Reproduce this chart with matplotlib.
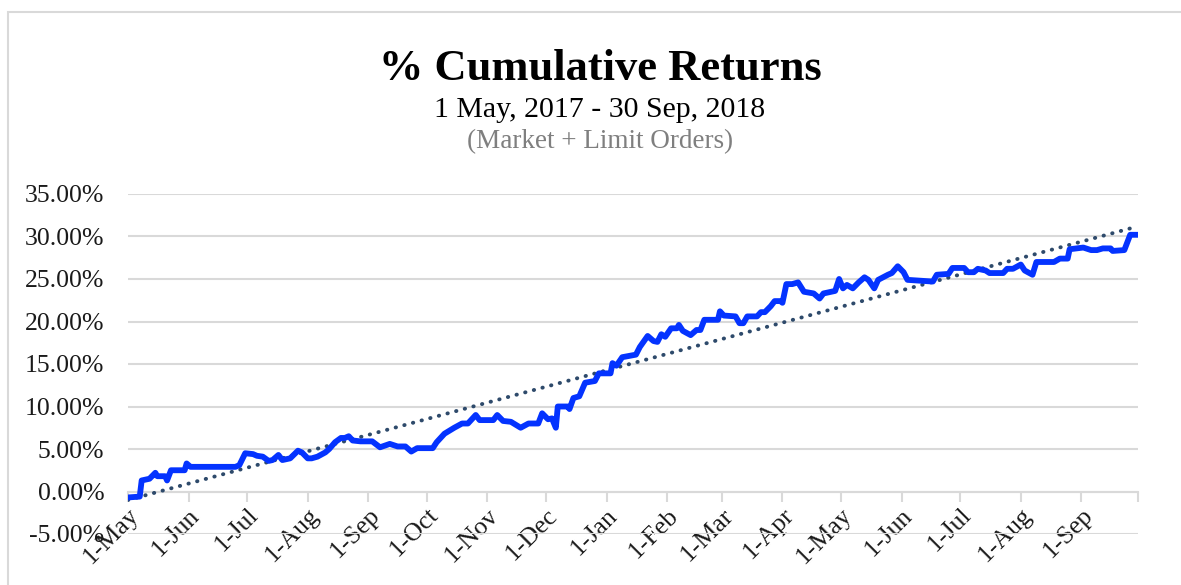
import numpy as np
import pandas as pd
import matplotlib.pyplot as plt
import matplotlib.dates as mdates
from matplotlib.ticker import PercentFormatter, FixedLocator
from matplotlib.patches import Rectangle

plt.rcParams['font.family'] = ['Liberation Serif', 'DejaVu Serif']
plt.rcParams['axes.unicode_minus'] = False

# days since 1 May 2017 and cumulative return (%)
days = [0, 6, 7, 11, 14, 15, 19, 20, 22, 29, 30, 32, 55, 57, 60, 64, 66, 69, 72, 74,
        77, 79, 83, 87, 89, 92, 94, 97, 101, 103, 106, 109, 111, 113, 115, 119, 125, 129, 134, 138,
        142, 145, 148, 156, 158, 162, 167, 171, 174, 178, 180, 187, 189, 192, 196, 201, 205, 210, 212, 215,
        217, 219, 220, 225, 226, 228, 231, 234, 239, 241, 247, 248, 250, 253, 260, 262, 266, 269, 271, 273,
        275, 278, 281, 282, 284, 288, 291, 293, 295, 302, 303, 305, 311, 313, 315, 317, 322, 324, 326, 329,
        331, 334, 335, 337, 340, 343, 346, 351, 354, 356, 362, 364, 366, 368, 371, 374, 377, 379, 382, 384,
        389, 391, 394, 397, 399, 412, 414, 420, 422, 428, 430, 433, 435, 439, 441, 448, 450, 453, 457, 459,
        463, 465, 474, 477, 481, 482, 489, 493, 496, 499, 503, 504, 510, 513, 517]
returns = [-0.7, -0.6, 1.3, 1.5, 2.2, 1.8, 1.8, 1.3, 2.5, 2.5, 3.3, 2.9, 2.9, 3.1, 4.5, 4.4, 4.2, 4.1, 3.6, 3.7,
           4.3, 3.7, 3.9, 4.8, 4.6, 3.9, 3.9, 4.1, 4.6, 5.0, 5.8, 6.3, 6.3, 6.5, 6.0, 5.9, 5.9, 5.2, 5.6, 5.3,
           5.3, 4.7, 5.1, 5.1, 5.8, 6.8, 7.5, 8.0, 8.0, 9.0, 8.4, 8.4, 9.0, 8.3, 8.2, 7.5, 8.0, 8.0, 9.2, 8.5,
           8.6, 7.5, 10.0, 10.0, 9.7, 11.0, 11.2, 12.8, 13.0, 13.9, 13.9, 15.1, 14.8, 15.8, 16.1, 17.0, 18.3, 17.7, 17.6, 18.5,
           18.2, 19.2, 19.2, 19.6, 18.9, 18.4, 19.0, 19.0, 20.2, 20.2, 21.2, 20.7, 20.6, 19.8, 19.8, 20.6, 20.6, 21.1, 21.1, 21.8,
           22.4, 22.4, 22.2, 24.4, 24.4, 24.6, 23.5, 23.3, 22.7, 23.3, 23.6, 25.0, 23.9, 24.3, 23.9, 24.6, 25.2, 24.9, 23.9, 24.9,
           25.5, 25.7, 26.5, 25.8, 24.9, 24.7, 25.5, 25.6, 26.3, 26.3, 25.8, 25.8, 26.2, 26.0, 25.7, 25.7, 26.2, 26.2, 26.7, 26.0,
           25.5, 27.0, 27.0, 27.4, 27.4, 28.5, 28.7, 28.4, 28.4, 28.6, 28.6, 28.3, 28.4, 30.2, 30.2]

# linear trendline end values (%)
trend_days = [0, 517]
trend_vals = [-1.0, 31.2]

month_starts = ['2017-05-01', '2017-06-01', '2017-07-01', '2017-08-01', '2017-09-01', '2017-10-01',
                '2017-11-01', '2017-12-01', '2018-01-01', '2018-02-01', '2018-03-01', '2018-04-01',
                '2018-05-01', '2018-06-01', '2018-07-01', '2018-08-01', '2018-09-01']
month_labels = ['1-May', '1-Jun', '1-Jul', '1-Aug', '1-Sep', '1-Oct', '1-Nov', '1-Dec', '1-Jan',
                '1-Feb', '1-Mar', '1-Apr', '1-May', '1-Jun', '1-Jul', '1-Aug', '1-Sep']

start = pd.Timestamp('2017-05-01')
end = pd.Timestamp('2018-09-30')
dates = start + pd.to_timedelta(days, unit='D')
tdates = start + pd.to_timedelta(trend_days, unit='D')

fig = plt.figure(figsize=(11.81, 5.85), dpi=100)
ax = fig.add_axes([128/1181, 51/585, (1138-128)/1181, (534-194)/585])

# chart border
fig.patches.append(Rectangle((8/1181, -0.05), 1.2, 1 - 12/585 + 0.05, transform=fig.transFigure,
                             fill=False, edgecolor='#D9D9D9', lw=1.5))

ax.plot(tdates, trend_vals, color='#2E4A6B', lw=2.8, linestyle=(0, (0.1, 2.2)),
        dash_capstyle='round', zorder=3)
ax.plot(dates, returns, color='#0433FF', lw=4.2, solid_joinstyle='round', zorder=4)

ax.set_ylim(-5, 35)
ax.set_yticks(np.arange(-5, 36, 5))
ax.yaxis.set_major_formatter(PercentFormatter(decimals=2))
ax.set_xlim(start, end)
tick_dates = [mdates.date2num(pd.Timestamp(d)) for d in month_starts] + [mdates.date2num(end)]
ax.xaxis.set_major_locator(FixedLocator(tick_dates))
ax.set_xticklabels(month_labels + [''])

ax.grid(axis='y', color='#D9D9D9', lw=1.5)
ax.set_axisbelow(True)
for s in ['top', 'right', 'left']:
    ax.spines[s].set_visible(False)
ax.spines['bottom'].set_position(('data', 0))
ax.spines['bottom'].set_color('#D9D9D9')
ax.spines['bottom'].set_linewidth(1.5)

ax.tick_params(axis='y', length=0, pad=17, labelsize=18.5, labelcolor='#1a1a1a')
ax.tick_params(axis='x', length=7, width=1.5, color='#D9D9D9', pad=2, labelsize=18.5, labelcolor='#1a1a1a')
for lab in ax.get_xticklabels():
    lab.set_rotation(45)
    lab.set_ha('right')
    lab.set_va('top')
    lab.set_rotation_mode('anchor')

fig.text(600/1181, 1 - 80/585, '% Cumulative Returns', ha='center', va='baseline',
         fontsize=32, fontweight='bold')
fig.text(600/1181, 1 - 117/585, '1 May, 2017 - 30 Sep, 2018', ha='center', va='baseline',
         fontsize=21.5)
fig.text(600/1181, 1 - 148/585, '(Market + Limit Orders)', ha='center', va='baseline',
         fontsize=19.5, color='#7F7F7F')

fig.savefig('out.png', dpi=100)
